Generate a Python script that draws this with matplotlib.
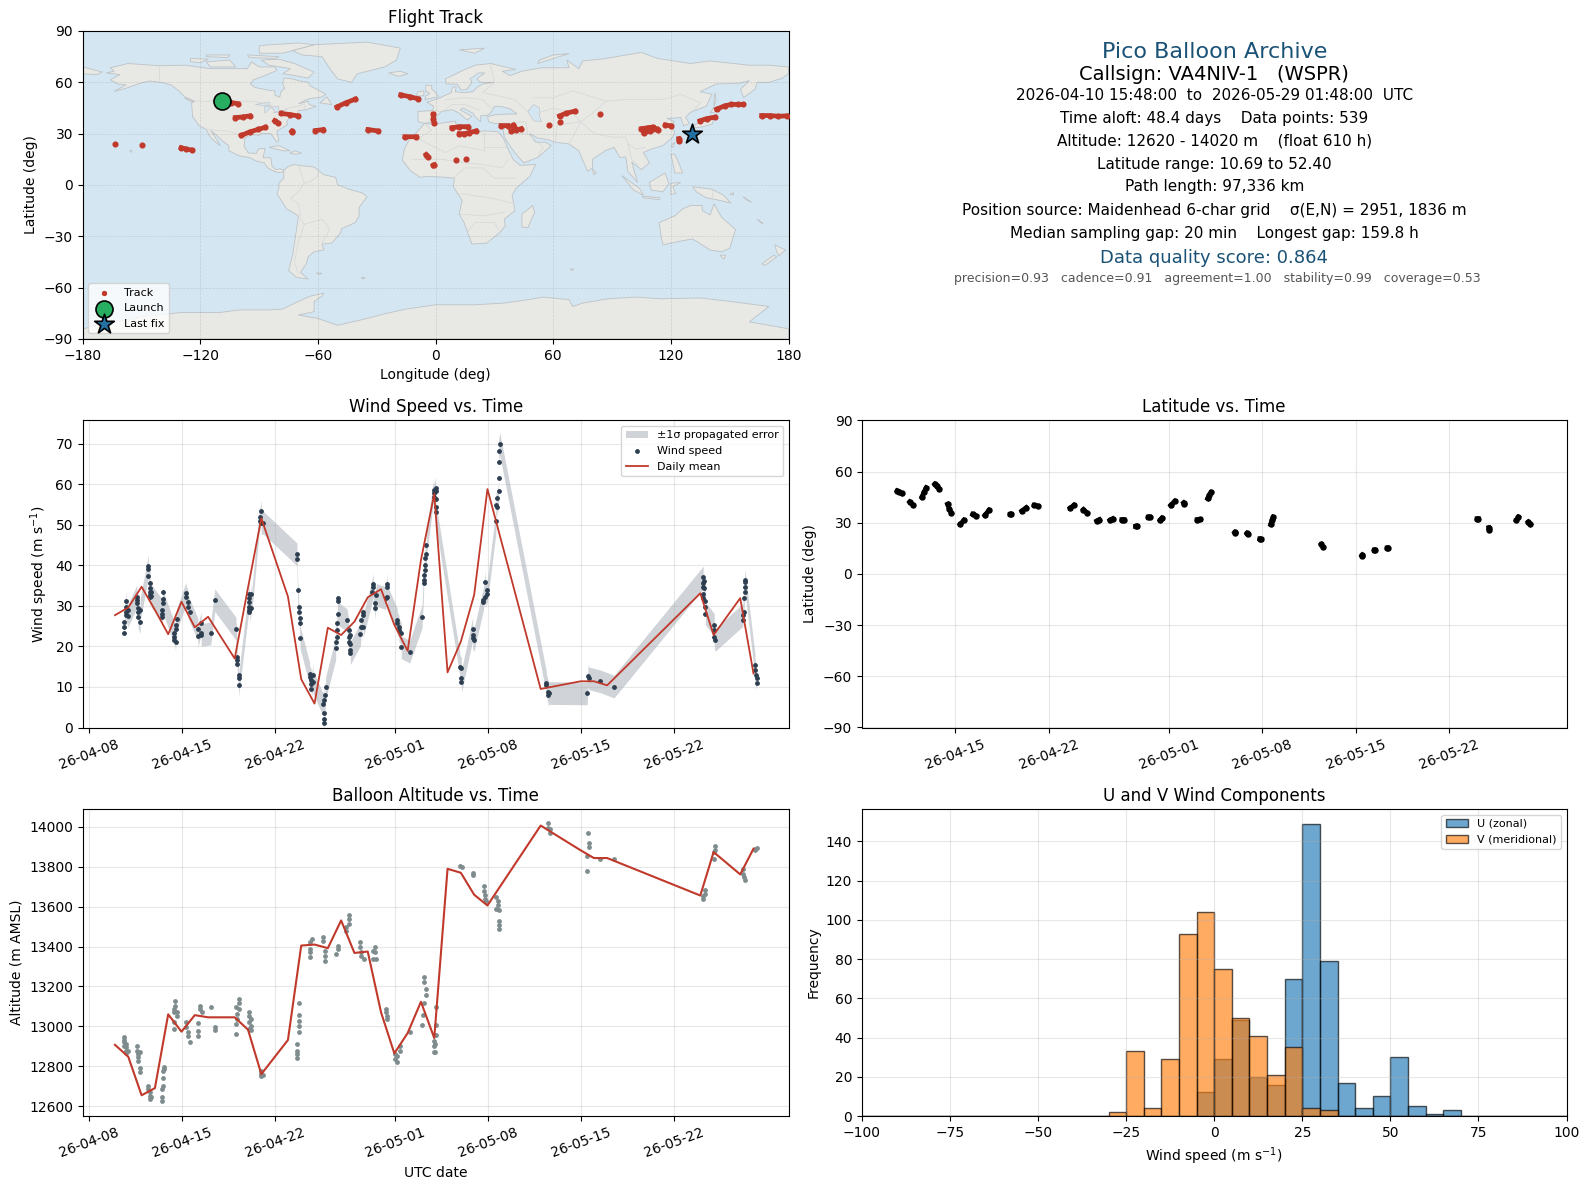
import datetime as dt

import matplotlib
matplotlib.use('Agg')
import matplotlib.pyplot as plt
import matplotlib.dates as mdates
import numpy as np

nan = float('nan')

# ---- land outlines (lon, lat)
north_america = [(-168,65.5),(-164,66.5),(-166,68.5),(-157,71),(-141,69.7),(-128,70),(-115,68),(-108,68),(-96,68),(-94,72),(-90,69),(-82,69),(-81,67),(-87,64),(-93,61.5),(-94.5,59),(-92,57),(-85,55.3),(-82,55),(-82,52.5),(-79.5,51.3),(-79,54.5),(-77,56.5),(-78,59),(-77.5,62.5),(-73,62),(-70,61),(-65,60),(-64,58),(-61.5,56.5),(-56,53),(-58,51.5),(-65,50.3),(-70,47.5),(-65,49),(-64.5,47),(-61,46),(-66,44),(-70,43.5),(-70.5,41.7),(-74,40.5),(-76,37),(-75.5,35.3),(-81,31.5),(-80,26),(-81,25),(-82.8,28),(-84,30),(-89,30.2),(-90,29),(-94,29.5),(-97.3,27.5),(-97.7,22.5),(-95.5,18.7),(-91.5,18.5),(-90.5,21),(-87,21.5),(-88,16),(-84,15.8),(-83.5,11),(-81.5,9),(-79.5,9.5),(-77.4,8.7),(-78,7.5),(-80.5,7.3),(-83,8.3),(-85.7,10),(-87.5,13),(-91.5,14),(-95,16),(-100,17),(-105.5,20),(-105.5,23),(-109,26),(-112.7,30),(-114.7,31.7),(-112,27),(-109.8,23),(-112,24.8),(-115,28),(-117,32.5),(-120.5,34.5),(-124,40),(-124.5,48),(-123,49),(-128,51.5),(-131,55),(-135,58.5),(-140,60),(-146,60.8),(-152,59),(-158,56.5),(-164,54.7),(-158,58.5),(-162,59),(-166,61.5),(-161,64.5)]
south_america = [(-77.4,8.7),(-75,11),(-72,12),(-70,11.5),(-62,10.5),(-57,6),(-51,4.5),(-50,0),(-44,-2.5),(-37,-4.8),(-35,-7),(-39,-13),(-39,-18),(-41,-22),(-48,-25.5),(-48.5,-28),(-53,-34),(-58,-34.5),(-57,-38),(-62,-39),(-65,-42),(-66,-46),(-69,-51),(-65,-55),(-71,-54),(-75,-50),(-73,-41),(-71.5,-30),(-70,-18),(-76,-14),(-81,-5),(-80,-2),(-80,1),(-77.5,4),(-77.5,7.5)]
africa = [(-5.9,35.8),(-1,35.5),(10,37.3),(11,34),(15,32.5),(20,32),(20,30.5),(25,31.7),(32,31),(34.5,27.5),(37,21),(39.5,15),(43,11.5),(51,12),(48,5),(41,-2),(39,-6),(40.5,-15),(35,-20),(35.5,-24),(32.5,-28),(26,-34),(18.5,-34.5),(14.5,-22),(12,-17),(13.5,-9),(9,-1),(9.5,4),(5,4.5),(-4,5),(-8,4.5),(-13,8.5),(-17,14.7),(-16,21),(-13,27.5),(-9.5,31)]
eurasia = [(-9,43),(-1.5,43.5),(-1,46),(-4.5,48.4),(1.5,50.5),(4,52),(8,54),(8.5,57),(10.5,57.5),(10,54.5),(14,54),(19,54.5),(21,57),(24,59),(30,60),(23,60),(21,62),(25,65.5),(22,65.5),(17.5,62),(18.5,60),(16,56),(13,55.5),(11,59),(5.5,59),(5,62),(13,66.5),(20,70),(28,71),(41,67.5),(34,66.5),(38,64),(44,66.5),(54,68.5),(68,68.5),(67,73),(73,68),(75,72.5),(86,73.8),(105,77.5),(113,74),(130,71),(140,72.5),(160,70),(170,70),(180,69),(180,65),(177,62.5),(170,60),(164,60),(163,56),(157,51),(155.5,56),(160,61),(155,59.5),(143,59),(135,54.5),(141,53),(138,46),(130,42.5),(127.5,39.5),(129.5,36),(126.5,34.5),(125,39.5),(121,39),(118,39),(122,37),(119,35),(122,31),(121,28),(116,23),(110,21),(106,19),(109,13),(105,9),(100,13.5),(103,1.5),(98,8),(97,16.5),(94,16),(91,22),(86.5,20),(80,15),(80,10),(77.5,8),(73,20),(68,24),(61,25),(57,26.5),(52,27.5),(48,30),(51,25),(56,25),(59,23),(52,16),(45,13),(42.5,16),(39,21),(35,28),(34.5,31.5),(36,36),(30,36),(27,37),(26.5,40),(30,41),(37,41.5),(41.5,41.5),(38,44.5),(33,46),(30,46),(28,42),(26,40.5),(23,40.5),(23,37),(20,40),(19,42),(14,45),(12.5,44),(18.5,40),(16,38),(12,42),(8.5,44),(3,43),(0,39.5),(-2,36.8),(-5.5,36),(-9,37)]
antarctica = [(-180,-84),(-150,-77),(-130,-74.5),(-110,-74.5),(-100,-73),(-85,-73),(-78,-72.5),(-70,-68),(-64,-65),(-57,-63.2),(-58,-65),(-62,-68),(-62,-74),(-70,-76),(-60,-78),(-50,-82),(-35,-78),(-25,-75),(-15,-72.5),(0,-70),(20,-70),(35,-69),(50,-66.5),(55,-65.5),(68,-67),(70,-71),(75,-69),(88,-66.5),(102,-65.5),(115,-66.5),(135,-66),(150,-68),(170,-71),(160,-80),(180,-84),(180,-90),(-180,-90)]
greenland = [(-73,78.5),(-62,82),(-35,83.5),(-18,80),(-20,73),(-26,69),(-40,65),(-43,60),(-50,62),(-54,68),(-58,75),(-68,76)]
australia = [(114,-22),(122,-18),(126,-14),(130,-12),(136,-12),(136,-15),(140,-17.5),(142,-11),(146,-19),(153,-26),(150,-37),(146,-39),(140,-38),(136,-35),(131,-31.5),(124,-33),(116,-35),(115,-30)]
islands = [
    [(-80,73.5),(-72,71),(-62,66),(-65,62.5),(-72,64),(-78,65),(-74,68),(-85,70),(-89,73)],
    [(-90,77),(-78,77),(-62,82),(-70,83),(-90,81.5)],
    [(-117,72),(-105,73),(-102,69),(-115,69)],
    [(-125,74),(-116,73.5),(-120,71.5),(-125,72)],
    [(-96,76),(-80,75),(-82,74),(-95,74.5)],
    [(-117,76),(-105,76),(-106,74.5),(-117,75)],
    [(-59,48),(-55.5,51.5),(-53,47)],
    [(-85,22),(-80,23),(-74.2,20),(-78,20)],
    [(-74.4,18.5),(-72,20),(-68.4,18.7),(-71,18)],
    [(-128,50.8),(-125,50),(-123.5,48.4),(-125,48.8)],
    [(-156,20.5),(-155,20),(-155.5,19)],
    [(-61,-51.5),(-58,-51.5),(-59,-52.3)],
    [(-5.5,50),(1.5,51.5),(0,54),(-2,56),(-2,58),(-5,58.5),(-5,55),(-3,53.5),(-5,52)],
    [(-10,52),(-6,52.2),(-6,55),(-9,54.5)],
    [(-24,65.5),(-18,66.5),(-14,65),(-19,63.5)],
    [(12,79),(25,80),(20,77)],
    [(52,71),(68,76.8),(60,76),(53,73)],
    [(130,33),(136,34),(141,35.5),(142,40),(140.5,41),(139,38),(133,35.7)],
    [(140,42),(145,43.5),(142,45.5)],
    [(142,46),(143,50),(142.5,54),(142,50)],
    [(120,23),(122,25),(121,22)],
    [(120,18),(122,18),(124,13),(126,7),(122,7),(121,13)],
    [(109,1.5),(117,7),(119,1),(116,-4),(110,-3)],
    [(95,5.5),(104,-2),(106,-6),(101,-3)],
    [(105.5,-6.5),(114.5,-7.5),(114,-8.5),(106,-7.5)],
    [(120,1),(125,1.5),(121,-1),(122.5,-5),(120,-5.5)],
    [(131,-1),(141,-2.5),(147,-6),(150.5,-10.5),(143,-8.5),(138,-7.5),(133,-4)],
    [(145,-41),(148,-41),(147,-43.5)],
    [(173,-35),(178.5,-38),(175,-41.5),(174,-39)],
    [(172.5,-41),(174,-42),(168,-47),(166.5,-46)],
    [(80,9.5),(82,7),(80.5,6)],
    [(49.5,-12),(50.5,-16),(47,-25),(44,-24.5),(44,-17)],
    [(-180,69),(-175,67.5),(-170,66),(-173,64.5),(-180,65)],
    [(164,-20),(167,-22.5),(166,-22)],
    [(68.5,-49),(70.5,-49.2),(69.5,-50)],
    [(-38,-54),(-36,-54),(-37,-55)],
    [(150,-5.5),(152,-4.5),(152,-6)],
    [(157,-7),(161,-10),(159,-9)],
]
lakes = [[(50,47),(53,45),(53,40),(54,37),(50,37.5),(47,43)],
         [(-92,47),(-85,48.5),(-84.5,46.5),(-88,46.5)],
         [(-87.5,46),(-80,45.8),(-80,43),(-82,43),(-84,45.5),(-87,42)],
         [(-83,42),(-79,43),(-76,44),(-79,43.5)]]
borders = [
    [(-123,49),(-95,49),(-88,48),(-83,46),(-82,43),(-79,43),(-75,45),(-70,46),(-67,47.5),(-67,45)],
    [(-141,69.7),(-141,60)],
    [(-117,32.5),(-108,31.5),(-106,31.7),(-101,29.7),(-97.3,26)],
    [(-70,11.5),(-67,1),(-70,-4),(-74,-8),(-70,-11),(-69,-18)],
    [(-60,8),(-60,5),(-64,2),(-67,1)],
    [(-70,-18),(-67,-23),(-70,-33),(-72,-45),(-70,-52)],
    [(-67,-23),(-58,-20),(-54,-26),(-58,-34)],
    [(-5,35),(-2,32),(-9,27),(-13,27.5)],
    [(-9,27),(5,19),(12,23),(25,20),(25,31.7)],
    [(25,22),(36,22)],
    [(-12,15),(3,15),(15,13),(24,12),(34,10),(37,15)],
    [(9,4),(15,10),(24,10),(30,4),(41,4)],
    [(13,-5),(30,-8),(40,-11)],
    [(12,-17),(24,-18),(35,-16)],
    [(16,-28),(20,-22),(30,-22),(32,-26)],
    [(28,70),(30,60),(24,54),(40,50),(47,43)],
    [(5,50),(15,51),(24,50),(28,45)],
    [(-1.5,43.5),(3,43)],
    [(5,44),(8,47),(15,47),(22,44)],
    [(52,42),(60,45),(70,42),(74,37),(62,35),(61,25)],
    [(50,51),(60,51),(70,55),(87,49),(98,50),(116,50),(125,53),(135,48),(131,43)],
    [(87,49),(80,42),(74,37),(78,33),(81,30),(90,28),(97,28),(98,24),(102,21),(107,22)],
    [(74,37),(70,28),(68,24)],
    [(36,36),(46,37),(47,30)],
    [(36,30),(47,30),(55,22),(52,17)],
    [(98,24),(100,15),(103,12)],
    [(141,-2.5),(141,-9)],
]

# ---- flight track, nan splits the separate daylight passes
track_lon = [-163.8,nan,-149.7,nan,-129.8,-127.2,-124.3,nan,-104.3,-100.9,nan,-102.2,-98.3,-94.9,nan,-99.1,-94.9,-90.6,-86.9,nan,-82.1,-80.4,nan,-78.7,-74.5,-70.2,nan,-73.4,-73.2,nan,-61.4,-57.4,nan,-50.3,-45.5,-40.9,nan,-34.5,-29.4,nan,-17.8,-13.2,-8.9,nan,-15.7,-9.8,nan,-1.2,-1.2,-0.7,nan,-4.9,-4.1,nan,-1.2,-0.6,nan,8.3,12.1,16.4,nan,12.1,14.7,17.2,20.6,nan,10.2,nan,15.3,nan,33.4,36.8,nan,39.7,40.2,nan,38.5,41,43.6,nan,57.6,nan,63.5,nan,63.2,66.6,70.9,nan,83.6,nan,104.9,108.3,110.9,113.5,nan,106.1,109.2,113,nan,117.2,120.3,nan,124,124.2,nan,134.8,138.2,142.4,nan,143.3,147.5,150.9,154.3,156.9,nan,166.3,170.5,174.8,179]
track_lat = [24.1,nan,23.5,nan,21.8,21,20.4,nan,48.2,47.5,nan,39.4,39.8,40.4,nan,29,31,32.5,33.7,nan,37.6,36.3,nan,41.8,41.2,40.4,nan,31.4,31.2,nan,31.8,32.4,nan,45.7,48.2,50.2,nan,32.4,31.6,nan,52.7,51.6,50.4,nan,28.2,28.2,nan,41.4,38.4,36.1,nan,17.8,16.5,nan,11.4,11.7,nan,33.5,34.1,34.1,nan,30,30,30.6,31.6,nan,14.7,nan,15.3,nan,34.7,34.7,nan,34.9,33.8,nan,31.6,32,32.9,nan,35.3,nan,37.1,nan,40.4,42,43.1,nan,41.6,nan,32.9,33.5,33.9,32,nan,30.6,31.6,32.5,nan,35.1,34.5,nan,27.1,25.7,nan,37.5,38.8,39.6,nan,44.3,46.3,47.1,47.1,47.1,nan,40.6,40.6,40.2,40.4]
launch_lon, launch_lat = -109, 48.8
last_lon, last_lat = 131, 29.6

# ---- time series, days counted from 2026-04-08 00:00 UTC
wind_days = [2.66,2.66,2.66,2.78,2.78,2.78,2.78,2.91,2.91,3.59,3.59,3.59,3.69,3.69,3.69,3.84,3.84,4.46,4.46,4.46,4.59,4.59,4.59,4.59,4.59,4.69,4.69,5.47,5.47,5.47,5.59,5.59,5.59,6.42,6.42,6.42,6.55,6.55,6.55,6.6,7.3,7.3,7.45,7.45,7.6,8.18,8.18,8.43,8.43,8.43,9.15,9.45,11.04,11.14,11.14,11.14,11.24,11.24,11.24,12.06,12.06,12.06,12.06,12.06,12.06,12.19,12.19,12.82,12.82,12.94,12.94,13.1,15.63,15.63,15.68,15.75,15.75,15.83,15.83,15.88,16.58,16.58,16.7,16.7,16.7,16.83,16.83,17.58,17.66,17.66,17.66,17.66,17.76,17.8,18.54,18.54,18.64,18.64,18.64,18.7,18.7,18.7,19.39,19.51,19.51,19.51,19.64,19.64,19.64,19.64,20.4,20.47,20.47,20.6,20.6,20.6,21.27,21.34,21.34,21.47,21.47,21.6,22.3,22.42,22.42,22.42,23.17,23.17,23.3,23.3,23.47,23.47,24.1,25.03,25.15,25.15,25.15,25.25,25.25,25.25,25.35,25.35,25.9,25.9,25.9,26.05,26.05,26.05,26.05,26.05,27.91,27.99,27.99,27.99,28.84,28.84,28.84,28.94,29.62,29.62,29.79,29.79,29.92,29.92,30.59,30.59,30.69,30.69,30.79,30.79,30.79,30.79,30.87,34.38,34.38,34.51,34.51,34.58,37.44,37.52,37.59,38.42,39.47,46.17,46.17,46.17,46.17,46.17,46.24,46.24,46.34,46.34,46.34,47.0,47.0,47.0,47.07,49.13,49.13,49.2,49.23,49.28,49.28,49.28,49.3,50.06,50.06,50.13,50.18,50.18]
wind_speed = [23.2,24.9,26.1,31.3,29.8,28.6,27.7,29,27.5,32.3,31.4,30.8,29.4,28.6,27.3,25.9,29,39.8,39,37.4,35.6,34.3,33.5,32.7,32.3,33.5,32.4,29,28.1,27.3,33.3,31.6,30.6,23.2,22.4,21.6,25.3,24.4,21.2,26.7,33.1,32.3,30.9,29.8,28.6,24.2,22.6,25.7,23.4,22.8,23.2,31.4,24.4,17.4,16.6,15.6,12.9,12.1,10.4,32.9,31.9,31,29.8,29,28.4,33,29.4,52,50.8,53.3,50.4,50.5,42.7,41.5,33.9,29.8,28.6,26.9,25.7,22,13.3,12.5,11.7,10.7,9.6,12.9,11.3,5.7,6.7,3.5,2,1.2,8.1,9.9,19.5,21.2,25.7,24,22.4,31.9,31.3,28.1,26.5,24,22.4,21.2,22.8,20.7,19.1,18.3,23,26.5,24.9,28.6,27.7,24.9,33.5,35.4,34.7,30.8,29.4,32.7,31.9,35.3,34.7,32.3,26.5,25.7,24.9,24,23.2,19.8,18.7,27.3,35.6,36.4,37.6,38.8,40,41.7,42.7,45,58.6,57.8,56.8,59,58.2,56.3,54.3,53.1,14.8,14.6,12.1,11.3,24.4,22.8,22,21.6,31.4,31,36,32.3,33.9,33,50.9,54.9,56.5,54.3,58.2,61.5,65.4,68.1,70,11,10.5,8.8,8,8.5,8.4,12.8,12.1,11.4,10.1,37,35.6,34.7,33,31.9,36.2,34.3,31.3,29.8,28.1,25.3,24,22.4,21.6,27.7,26.5,31.9,28.6,36,34.7,33.5,36.3,15.4,14.2,12.9,12.1,10.9]
wind_sigma = 2.8

mean_days = [1.95,2.95,3.95,4.95,5.95,6.95,7.95,8.95,10.95,11.95,12.95,14.95,15.95,16.95,17.95,18.95,19.95,20.95,21.95,22.95,23.95,24.95,25.95,26.95,27.95,28.95,29.95,33.95,36.95,37.95,38.95,45.95,46.95,48.95,49.95]
wind_mean = [27.7,29.6,34.7,29,23,31,24.7,27.3,17,34.5,51.6,32.3,11.9,5.9,24.6,22.8,26.1,32.1,34.1,25.3,18.9,41.3,57.6,13.6,21.2,32.7,58.8,9.5,11.4,11.4,10.4,33.1,22.8,31.9,13.3]
alt_mean = [12907,12847,12654,12690,13060,12973,13056,13045,13045,12983,12760,12931,13405,13410,13392,13531,13368,13375,13070,12864,12966,13123,12941,13790,13770,13660,13606,14007,13883,13844,13844,13656,13874,13762,13891]

alt_days = [2.66,2.66,2.66,2.66,2.78,2.78,2.78,2.78,2.91,3.59,3.59,3.69,3.69,3.69,3.84,3.84,3.84,4.46,4.46,4.59,4.59,4.59,4.69,5.47,5.47,5.47,5.55,5.55,5.55,5.64,5.64,6.42,6.42,6.42,6.42,6.47,6.47,6.6,6.6,7.3,7.3,7.45,7.45,7.6,8.18,8.18,8.18,8.36,8.36,8.48,9.15,9.45,9.45,11.04,11.04,11.04,11.14,11.14,11.24,11.24,11.24,12.01,12.01,12.01,12.01,12.19,12.19,12.19,12.9,12.9,12.9,13.07,15.63,15.63,15.63,15.63,15.75,15.75,15.75,15.75,15.75,16.6,16.6,16.6,16.6,16.73,17.58,17.58,17.76,17.76,17.76,18.54,18.71,18.71,19.35,19.35,19.54,19.54,19.54,20.36,20.36,20.46,20.46,20.64,21.34,21.34,21.47,21.47,21.6,22.3,22.3,22.42,22.42,23,23,23.17,23.17,23.35,23.35,24.1,25.03,25.1,25.2,25.2,25.2,25.32,25.32,25.93,25.93,25.93,26.03,26.03,26.1,26.1,26.1,27.91,28,28.84,28.84,29.69,29.69,29.79,29.79,29.87,30.59,30.59,30.72,30.72,30.82,30.82,30.82,30.82,34.48,34.48,34.63,34.63,37.46,37.46,37.52,37.59,37.59,38.42,39.47,46.17,46.17,46.3,46.3,47,47,47.07,47.07,49.13,49.13,49.23,49.3,50.06,50.06,50.18]
alt_vals = [12944,12932,12919,12902,12911,12894,12877,12865,12877,12902,12877,12860,12844,12827,12793,12772,12869,12698,12684,12668,12651,12634,12643,12626,12643,12684,12701,12743,12777,12798,12785,12986,13020,13070,13087,13125,13103,13070,13053,13023,12994,12969,12949,12919,13016,12978,12953,13103,13087,13070,13095,12994,12981,13095,13011,12961,13062,13036,13137,13117,13087,13073,13053,13020,12986,13036,13003,12981,12777,12760,12752,12755,12877,12860,12840,12911,13117,13056,13028,13003,12969,13422,13388,13372,13348,13439,13447,13430,13380,13355,13328,13363,13405,13388,13480,13497,13556,13539,13514,13425,13397,13372,13355,13338,13380,13338,13397,13372,13338,13087,13070,13053,13036,12860,12835,12822,12852,12902,12877,12969,13006,13056,13246,13221,13117,13187,13157,12927,12902,12869,12911,12869,12956,13006,13097,13802,13799,13760,13770,13702,13678,13660,13640,13631,13648,13590,13631,13606,13581,13529,13509,13489,14022,13995,13992,13972,13780,13853,13972,13920,13899,13841,13841,13656,13640,13682,13665,13841,13874,13903,13883,13787,13765,13749,13732,13891,13883,13894]

# latitude passes, nan splits them
lat_days = [2.64,2.81,3.0,nan,3.57,3.8,nan,4.49,4.66,4.82,nan,5.45,5.61,5.78,nan,6.41,6.54,6.7,nan,7.36,7.63,nan,8.29,8.58,nan,9.21,9.51,nan,11.1,11.2,nan,11.98,12.31,nan,12.91,13.17,nan,15.61,15.88,nan,16.6,16.87,nan,17.59,17.79,nan,18.58,18.78,nan,19.48,19.64,nan,20.5,20.6,nan,21.46,21.55,nan,22.35,22.48,nan,23.14,23.44,nan,24.1,24.16,nan,25.12,25.35,nan,25.91,26.04,26.17,nan,27.93,27.99,nan,28.85,28.91,nan,29.81,29.94,nan,30.63,30.73,30.83,nan,34.43,34.53,nan,37.46,37.5,nan,38.4,38.44,nan,39.36,39.4,nan,46.1,46.2,nan,46.97,47.0,nan,49.05,49.2,nan,49.94,50.1]
lat_vals = [48.8,48.2,47.2,nan,42.3,40.7,nan,45.2,48.2,50.6,nan,52.7,51.5,50,nan,40.9,38.3,35.8,nan,29.1,31.5,nan,35,34,nan,34.4,37.4,nan,35,35,nan,37,38.9,nan,40.3,39.9,nan,38.7,40.3,nan,37.8,35.8,nan,31.1,31.9,nan,31.5,32.4,nan,31.9,31.9,nan,27.9,27.9,nan,33.4,33.4,nan,31.5,32.8,nan,40.3,42.7,nan,41.8,41.2,nan,31.9,32,nan,44.3,46.2,47.8,nan,24.4,24,nan,23.8,23.4,nan,20.6,20.4,nan,29.1,31.5,33.4,nan,17.3,16.1,nan,10.8,11.2,nan,14.1,14.1,nan,15.3,15.3,nan,32.4,32.4,nan,27.2,25.8,nan,31.5,33.4,nan,30.5,29.1]

# ---- histogram, 5 m/s bins from -100 to 100
hist_edges = list(range(-100, 105, 5))
u_counts = [0]*19 + [12,29,49,20,16,70,149,79,17,4,10,30,5,1,3] + [0]*6
v_counts = [0]*14 + [2,33,4,29,93,104,75,50,41,21,35,4,3] + [0]*13

date_ticks = [dt.datetime(2026,4,8),dt.datetime(2026,4,15),dt.datetime(2026,4,22),dt.datetime(2026,5,1),
              dt.datetime(2026,5,8),dt.datetime(2026,5,15),dt.datetime(2026,5,22)]
start = mdates.date2num(dt.datetime(2026,4,8))

W, H = 1590, 1189
fig = plt.figure(figsize=(W/100, H/100), dpi=100)

def add_ax(left, top, right, bottom):
    return fig.add_axes([left/W, 1-bottom/H, (right-left)/W, (bottom-top)/H])

def date_axis(ax, lim):
    ax.set_xlim(start+lim[0], start+lim[1])
    ax.set_xticks(date_ticks)
    ax.xaxis.set_major_formatter(mdates.DateFormatter('%y-%m-%d'))
    ax.tick_params(axis='x', labelrotation=20)
    ax.grid(True, alpha=0.3)

LEFT, RIGHT = (82.8, 788.5), (862, 1566.5)
ROW1, ROW2, ROW3 = (31, 339), (420.5, 727.5), (809, 1116)

# ---- map
ax = add_ax(LEFT[0], ROW1[0], LEFT[1], ROW1[1])
ax.set_facecolor('#d4e6f1')
land = '#e8e8e4'
for shape in [north_america, south_america, africa, eurasia, antarctica, greenland, australia] + islands:
    xs, ys = zip(*shape)
    ax.fill(xs, ys, fc=land, ec='#bdc3c7', lw=0.6, zorder=1)
for shape in lakes:
    xs, ys = zip(*shape)
    ax.fill(xs, ys, fc='#d4e6f1', ec='#bdc3c7', lw=0.4, zorder=1.1)
for line in borders:
    xs, ys = zip(*line)
    ax.plot(xs, ys, color='#d5d8d8', lw=0.5, zorder=1.2)
ax.grid(True, ls='--', lw=0.5, color='gray', alpha=0.25, zorder=1.5)
ax.plot(track_lon, track_lat, '-o', color='#c0392b', lw=3.4, ms=3.4, zorder=3)
ax.scatter([], [], s=8, color='#c0392b', label='Track')
ax.scatter(launch_lon, launch_lat, s=150, color='#27ae60', edgecolor='black', lw=1.2, zorder=5, label='Launch')
ax.scatter(last_lon, last_lat, s=220, marker='*', color='#2471a3', edgecolor='black', lw=1.2, zorder=5, label='Last fix')
ax.set_xlim(-180, 180)
ax.set_ylim(-90, 90)
ax.set_xticks(range(-180, 181, 60))
ax.set_yticks(range(-90, 91, 30))
ax.set_xlabel('Longitude (deg)')
ax.set_ylabel('Latitude (deg)')
ax.set_title('Flight Track', fontsize=12)
ax.legend(loc='lower left', fontsize=8)

# ---- summary text
cx = (RIGHT[0]+RIGHT[1])/2
info = [
    (52, 'Pico Balloon Archive', 16, '#1a5276', 0),
    (74.5, 'Callsign: VA4NIV-1   (WSPR)', 14, 'black', 0),
    (95.5, '2026-04-10 15:48:00  to  2026-05-29 01:48:00  UTC', 11, 'black', 0),
    (118, 'Time aloft: 48.4 days    Data points: 539', 11, 'black', 0),
    (141, 'Altitude: 12620 - 14020 m    (float 610 h)', 11, 'black', 0),
    (164, 'Latitude range: 10.69 to 52.40', 11, 'black', 0),
    (187, 'Path length: 97,336 km', 11, 'black', 0),
    (210, 'Position source: Maidenhead 6-char grid    σ(E,N) = 2951, 1836 m', 11, 'black', 0),
    (233.5, 'Median sampling gap: 20 min    Longest gap: 159.8 h', 11, 'black', 0),
    (258, 'Data quality score: 0.864', 13, '#1a5276', 0),
    (278.5, 'precision=0.93   cadence=0.91   agreement=1.00   stability=0.99   coverage=0.53', 9, '#555555', 3.5),
]
for y, txt, size, col, dx in info:
    fig.text((cx+dx)/W, 1-y/H, txt, fontsize=size, color=col, ha='center', va='center')

# ---- wind speed
ax = add_ax(LEFT[0], ROW2[0], LEFT[1], ROW2[1])
wd = start + np.array(wind_days)
ws = np.array(wind_speed)
ax.fill_between(wd, ws-wind_sigma, ws+wind_sigma, color='#2c3e50', alpha=0.22, lw=0, label='±1σ propagated error')
ax.scatter(wd, ws, s=6, color='#2c3e50', zorder=3, label='Wind speed')
ax.plot(start+np.array(mean_days), wind_mean, color='#c0392b', lw=1.3, zorder=4, label='Daily mean')
date_axis(ax, (-0.47, 52.58))
ax.set_ylim(0, 75.7)
ax.set_ylabel('Wind speed (m s$^{-1}$)')
ax.set_title('Wind Speed vs. Time', fontsize=12)
ax.legend(loc='upper right', fontsize=8)

# ---- latitude
ax = add_ax(RIGHT[0], ROW2[0], RIGHT[1], ROW2[1])
ax.plot(start+np.array(lat_days), lat_vals, '-o', color='black', lw=3.4, ms=3.6)
date_axis(ax, (0.5, 52.8))
ax.set_xticks(date_ticks[1:])
ax.set_ylim(-90, 90)
ax.set_yticks(range(-90, 91, 30))
ax.set_ylabel('Latitude (deg)')
ax.set_title('Latitude vs. Time', fontsize=12)

# ---- altitude
ax = add_ax(LEFT[0], ROW3[0], LEFT[1], ROW3[1])
ax.scatter(start+np.array(alt_days), alt_vals, s=6, color='#7f8c8d', zorder=3)
ax.plot(start+np.array(mean_days), alt_mean, color='#c0392b', lw=1.5, zorder=4)
date_axis(ax, (-0.47, 52.58))
ax.set_ylim(12550, 14090)
ax.set_xlabel('UTC date')
ax.set_ylabel('Altitude (m AMSL)')
ax.set_title('Balloon Altitude vs. Time', fontsize=12)

# ---- U and V histogram
ax = add_ax(RIGHT[0], ROW3[0], RIGHT[1], ROW3[1])
ax.hist(hist_edges[:-1], bins=hist_edges, weights=u_counts, alpha=0.65, color='tab:blue', edgecolor='black', label='U (zonal)')
ax.hist(hist_edges[:-1], bins=hist_edges, weights=v_counts, alpha=0.65, color='tab:orange', edgecolor='black', label='V (meridional)')
ax.set_xlim(-100, 100)
ax.grid(True, alpha=0.3)
ax.set_xlabel('Wind speed (m s$^{-1}$)')
ax.set_ylabel('Frequency')
ax.set_title('U and V Wind Components', fontsize=12)
ax.legend(loc='upper right', fontsize=8)

fig.savefig('out.png', dpi=100)
